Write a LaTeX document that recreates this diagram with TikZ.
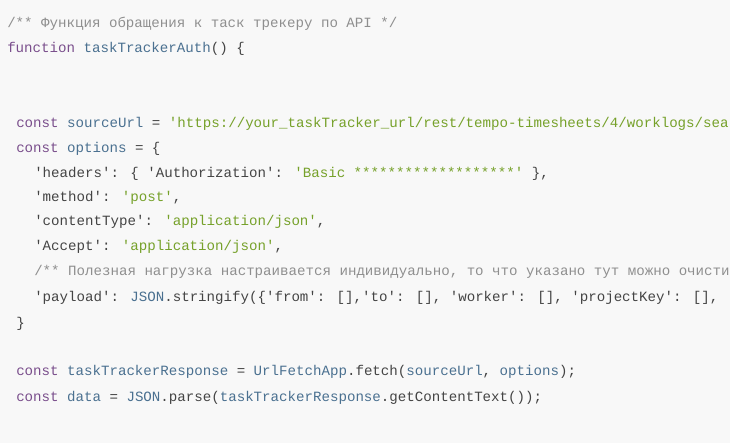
\documentclass[tikz,border=0pt]{standalone}
\usepackage{fontspec}
\newfontfamily\codefont{Liberation Mono}
\definecolor{bgcol}{HTML}{F8F8F8}
\definecolor{kwcol}{HTML}{7A4E8C}
\definecolor{idcol}{HTML}{4A7090}
\definecolor{strcol}{HTML}{76A12A}
\definecolor{cmcol}{HTML}{8F8F8F}
\definecolor{txtcol}{HTML}{444444}
\newcommand{\kw}[1]{\textcolor{kwcol}{#1}}
\newcommand{\nm}[1]{\textcolor{idcol}{#1}}
\newcommand{\str}[1]{\textcolor{strcol}{#1}}

\begin{document}
\begin{tikzpicture}[x=0.75pt,y=-0.75pt,
    codeline/.style={anchor=base west,inner sep=0pt,text=txtcol,font=\codefont\fontsize{10.6pt}{12pt}\selectfont},
    comment/.style={codeline,text=cmcol}]
  \fill[bgcol] (0,0) rectangle (730,443);
  \clip (0,0) rectangle (730,443);
  \node[comment] (head) at (7,27) {/** Функция обращения к таск трекеру по API */};
  \node[codeline] (fn) at (7,52) {\kw{function} \nm{taskTrackerAuth}() \{};

  \node[codeline] (url) at (16,127) {\kw{const} \nm{sourceUrl} = \str{'https://your\_taskTracker\_url/rest/tempo-timesheets/4/worklogs/search'};};
  \node[codeline] (opts) at (16,152) {\kw{const} \nm{options} = \{};
  \node[codeline] (hdr) at (34,177) {'headers': \{ 'Authorization': \str{'Basic *******************'} \},};
  \node[codeline] (meth) at (34,201) {'method': \str{'post'},};
  \node[codeline] (ctype) at (34,225) {'contentType': \str{'application/json'},};
  \node[codeline] (acc) at (34,250) {'Accept': \str{'application/json'},};
  \node[comment] (note) at (34,275) {/** Полезная нагрузка настраивается индивидуально, то что указано тут можно очистить */};
  \node[codeline] (load) at (34,301) {'payload': \nm{JSON}.stringify(\{'from': [],'to': [], 'worker': [], 'projectKey': [], 'f};
  \node[codeline] (close) at (16,327) {\}};

  \node[codeline] (resp) at (16,375) {\kw{const} \nm{taskTrackerResponse} = \nm{UrlFetchApp}.fetch(\nm{sourceUrl}, \nm{options});};
  \node[codeline] (data) at (16,401) {\kw{const} \nm{data} = \nm{JSON}.parse(\nm{taskTrackerResponse}.getContentText());};
\end{tikzpicture}
\end{document}
